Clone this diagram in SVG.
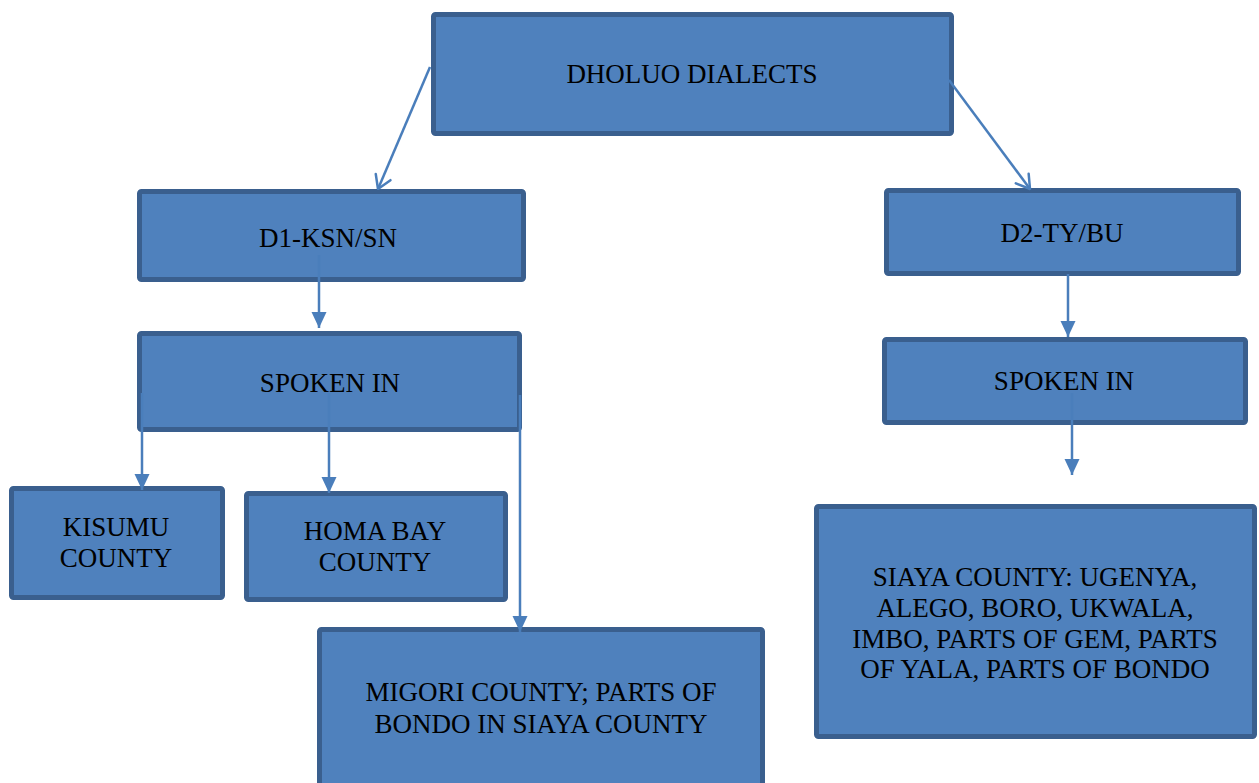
<svg xmlns="http://www.w3.org/2000/svg" width="1259" height="783" viewBox="0 0 1259 783">
<style>
.box{fill:#4F81BD;stroke:#3A5F8E;stroke-width:5;}
.t{font-family:"Liberation Serif","Times New Roman",serif;font-size:27px;fill:#000;text-anchor:middle;}
.c{fill:none;stroke:#4A7EBB;stroke-width:2.5;}
</style>
<defs>
<marker id="tri" markerUnits="userSpaceOnUse" markerWidth="16" markerHeight="16" viewBox="0 0 16 16" refX="16" refY="8" orient="auto">
<path d="M0,0.5 L16,8 L0,15.5 Z" fill="#4A7EBB"/>
</marker>
<marker id="open" markerUnits="userSpaceOnUse" markerWidth="16" markerHeight="20" viewBox="0 0 16 20" refX="15" refY="10" orient="auto">
<path d="M2,2 L15,10 L2,18" fill="none" stroke="#4A7EBB" stroke-width="2.5" stroke-linecap="round" stroke-linejoin="round"/>
</marker>
</defs>
<rect width="1259" height="783" fill="#fff"/>
<g id="n-dholuo"><rect class="box" x="433.5" y="14.5" width="518" height="119" rx="2"/><text class="t" x="692" y="83">DHOLUO DIALECTS</text></g>
<g id="n-d1"><rect class="box" x="139.5" y="191.5" width="384" height="88" rx="2"/><text class="t" x="328" y="247">D1-KSN/SN</text></g>
<g id="n-d2"><rect class="box" x="886.5" y="190.5" width="352" height="83" rx="2"/><text class="t" x="1062" y="242">D2-TY/BU</text></g>
<g id="n-spoken1"><rect class="box" x="139.5" y="333.5" width="380" height="96" rx="2"/><text class="t" x="330" y="392">SPOKEN IN</text></g>
<g id="n-spoken2"><rect class="box" x="884.5" y="339.5" width="361" height="83" rx="2"/><text class="t" x="1064" y="390">SPOKEN IN</text></g>
<g id="n-kisumu"><rect class="box" x="11.5" y="488.5" width="211" height="109" rx="2"/><text class="t" x="116" y="536">KISUMU</text><text class="t" x="116" y="567">COUNTY</text></g>
<g id="n-homabay"><rect class="box" x="246.5" y="493.5" width="259" height="106" rx="2"/><text class="t" x="375" y="540">HOMA BAY</text><text class="t" x="375" y="571">COUNTY</text></g>
<g id="n-migori"><rect class="box" x="319.5" y="629.5" width="443" height="160" rx="2"/><text class="t" x="541" y="701">MIGORI COUNTY; PARTS OF</text><text class="t" x="541" y="733">BONDO IN SIAYA COUNTY</text></g>
<g id="n-siaya"><rect class="box" x="816.5" y="506.5" width="438" height="230" rx="2"/><text class="t" x="1035" y="586">SIAYA COUNTY: UGENYA,</text><text class="t" x="1035" y="617">ALEGO, BORO, UKWALA,</text><text class="t" x="1035" y="648">IMBO, PARTS OF GEM, PARTS</text><text class="t" x="1035" y="678">OF YALA, PARTS OF BONDO</text></g>
<g id="connectors">
<line class="c" x1="430" y1="67" x2="378" y2="189" marker-end="url(#open)"/>
<line class="c" x1="949" y1="80" x2="1030" y2="189" marker-end="url(#open)"/>
<line class="c" x1="319" y1="255" x2="319" y2="328" marker-end="url(#tri)"/>
<line class="c" x1="142" y1="393" x2="142" y2="490" marker-end="url(#tri)"/>
<line class="c" x1="329" y1="393" x2="329" y2="493" marker-end="url(#tri)"/>
<line class="c" x1="520" y1="395" x2="520" y2="632" marker-end="url(#tri)"/>
<line class="c" x1="1068" y1="274" x2="1068" y2="337" marker-end="url(#tri)"/>
<line class="c" x1="1072" y1="393" x2="1072" y2="475" marker-end="url(#tri)"/>
</g>
</svg>
